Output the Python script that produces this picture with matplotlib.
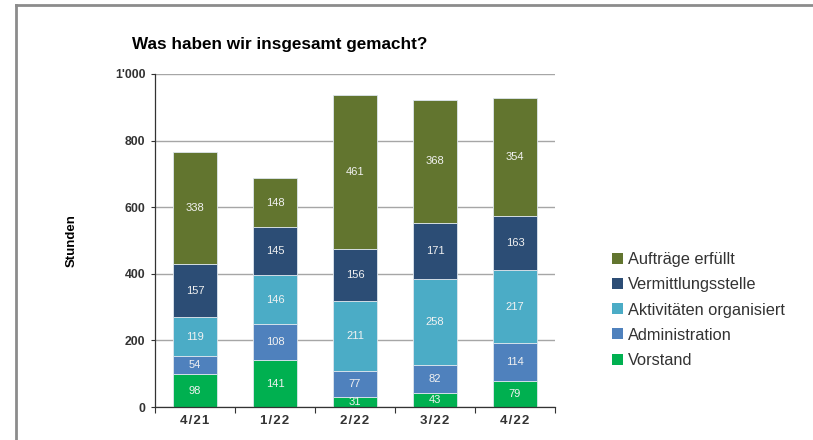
import numpy as np
import matplotlib.pyplot as plt
from matplotlib.patches import Patch
from matplotlib.lines import Line2D

plt.rcParams['font.family'] = ['Liberation Sans', 'DejaVu Sans']

quarters = ['4/21', '1/22', '2/22', '3/22', '4/22']
vorstand = [98, 141, 31, 43, 79]
administration = [54, 108, 77, 82, 114]
aktivitaeten = [119, 146, 211, 258, 217]
vermittlung = [157, 145, 156, 171, 163]
auftraege = [338, 148, 461, 368, 354]

series = [
    ('Vorstand', vorstand, '#00B050'),
    ('Administration', administration, '#4F81BD'),
    ('Aktivitäten organisiert', aktivitaeten, '#4BACC6'),
    ('Vermittlungsstelle', vermittlung, '#2C4D75'),
    ('Aufträge erfüllt', auftraege, '#62752F'),
]

fig = plt.figure(figsize=(8.13, 4.40), dpi=100)
ax = fig.add_axes([155/813, 1-407/440, 400/813, 333/440])

x = np.arange(len(quarters))
bottom = np.zeros(len(quarters))
for name, vals, col in series:
    vals = np.array(vals)
    ax.bar(x, vals, 0.55, bottom=bottom, color=col, edgecolor='#dde6ee',
           linewidth=0.6, zorder=3)
    for xi, b, v in zip(x, bottom, vals):
        ax.text(xi, b + v/2, str(v), ha='center', va='center', color='#f2f2f2',
                fontsize=8, zorder=4)
    bottom += vals

ax.set_xlim(-0.5, 4.5)
ax.set_ylim(0, 1000)
ax.set_yticks([0, 200, 400, 600, 800, 1000])
ax.set_yticklabels(['0', '200', '400', '600', '800', "1'000"], fontsize=8.8,
                   fontweight='bold', color='#333333')
ax.set_xticks(x)
ax.set_xticklabels(['\u200a'.join(q) for q in quarters], fontsize=9.5,
                   fontweight='bold', color='#333333')
ax.set_xticks(np.arange(-0.5, 5, 1), minor=True)
ax.tick_params(axis='x', which='major', length=0, pad=6)
ax.tick_params(axis='x', which='minor', length=4, width=0.8, color='#333333')
ax.tick_params(axis='y', length=3, width=0.8, color='#333333', pad=4)
ax.yaxis.grid(True, color='#a6a6a6', linewidth=1, zorder=0)
ax.set_axisbelow(True)
for s in ['top', 'right']:
    ax.spines[s].set_visible(False)
for s in ['left', 'bottom']:
    ax.spines[s].set_color('#333333')
    ax.spines[s].set_linewidth(0.9)
    ax.spines[s].set_zorder(5)

ax.set_ylabel('Stunden', fontsize=9.5, fontweight='bold', labelpad=27)

fig.text(132/813, 1-45/440, 'Was haben wir insgesamt gemacht?', fontsize=12.3,
         fontweight='bold', va='center', ha='left')

handles = [Patch(facecolor=col, edgecolor='none') for _, _, col in series[::-1]]
labels = [name for name, _, _ in series[::-1]]
fig.legend(handles, labels, loc='upper left', bbox_to_anchor=(604/813, 1-244/440),
           frameon=False, fontsize=11.8, labelspacing=0.62, handlelength=0.66,
           handleheight=0.66, handletextpad=0.3, borderpad=0, labelcolor='#333333')

# outer frame
fig.add_artist(Line2D([16/813, 1], [1-5/440, 1-5/440], color='#8c8c8c', lw=2))
fig.add_artist(Line2D([16/813, 16/813], [0, 1-5/440], color='#8c8c8c', lw=2))

fig.savefig('out.png', dpi=100)
